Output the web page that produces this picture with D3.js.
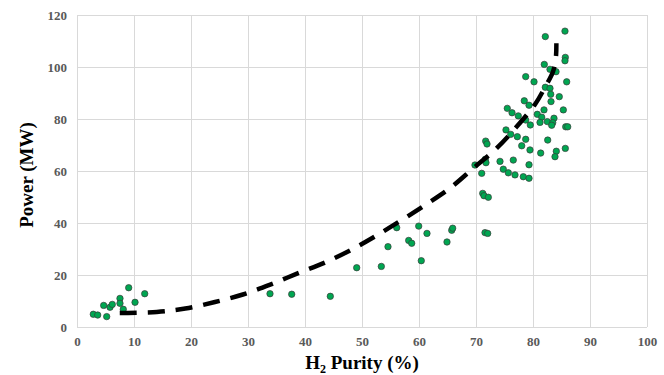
<!DOCTYPE html>
<html>
<head>
<meta charset="utf-8">
<script src="https://cdn.jsdelivr.net/npm/d3@7"></script>
<style>
  html, body { margin: 0; padding: 0; background: #fff; }
  svg { display: block; }
</style>
</head>
<body>
<svg id="chart" width="664" height="375"></svg>
<script>
// ---- Data ----
const purity = [
  2.86, 3.63, 5.21, 4.68, 5.79, 6.19, 7.54, 7.54, 8.12, 9.07, 10.18, 11.88,
  33.86, 37.67, 44.44,
  49.07, 53.39, 54.56, 56.09, 58.19, 58.72, 59.95, 60.40, 61.40, 64.91, 65.74, 65.91,
  71.18, 71.40, 72.16, 71.58, 72.05,
  85.61, 82.16, 85.67, 85.61, 81.98, 82.98, 84.04, 78.72, 80.18, 85.91,
  82.16, 82.98, 83.11, 84.61, 78.47, 83.16, 79.30, 75.49, 76.32, 81.93,
  85.32, 77.42, 80.75, 81.53, 78.72, 83.68, 81.23, 82.51, 83.46, 79.53,
  83.28, 85.74, 86.09, 75.26, 76.09, 77.25, 78.72, 82.58, 71.70, 71.93,
  78.02, 79.47, 85.67, 84.09, 81.35, 83.86, 71.63, 71.75, 69.82, 74.21,
  76.54, 79.30, 71.00, 74.79, 75.67, 76.84, 78.30, 79.30
];
const power = [
  4.9, 4.6, 4.0, 8.3, 7.6, 8.7, 11.0, 9.1, 6.8, 15.1, 9.5, 12.8,
  12.8, 12.6, 11.8,
  22.8, 23.3, 30.9, 38.2, 33.3, 32.2, 38.8, 25.5, 36.0, 32.7, 37.2, 38.0,
  51.4, 50.5, 49.9, 36.3, 36.0,
  113.8, 111.7, 103.7, 102.4, 101.0, 99.1, 98.2, 96.3, 94.3, 94.3,
  92.2, 91.8, 89.5, 88.6, 87.0, 86.7, 85.3, 84.1, 82.4, 83.5,
  83.5, 81.2, 81.8, 80.7, 79.6, 80.3, 78.7, 79.0, 78.6, 77.7,
  77.6, 77.0, 77.0, 75.8, 74.1, 73.2, 72.2, 71.9, 71.5, 70.4,
  69.7, 68.1, 68.7, 67.6, 66.9, 65.5, 64.5, 63.2, 62.3, 63.7,
  64.2, 62.4, 59.1, 60.7, 59.3, 58.5, 57.8, 57.2
];
// Trendline
const trendX = [7.5, 14.0, 19.0, 24.2, 29.1, 33.9, 38.7, 43.5, 48.2, 52.7, 57.1, 61.5, 65.6, 69.6, 73.5, 77.0, 80.4, 82.1, 83.5, 84.0, 84.1];
const trendY = [5.4, 5.8, 7.1, 9.6, 12.5, 16.3, 20.6, 24.8, 29.8, 35.4, 41.3, 47.5, 53.7, 61.2, 68.5, 76.7, 85.8, 92.2, 98.2, 103.3, 109.1];

const xTicks = [0, 10, 20, 30, 40, 50, 60, 70, 80, 90, 100];
const yTicks = [0, 20, 40, 60, 80, 100, 120];
const xTitleMain = "H";
const xTitleSub = "2";
const xTitleRest = " Purity (%)";
const yTitle = "Power (MW)";

// ---- Layout ----
const svg = d3.select("#chart");
const pLeft = 77, pRight = 647, pTop = 15, pBottom = 327;
const x = d3.scaleLinear().domain([0, 100]).range([pLeft, pRight]);
const y = d3.scaleLinear().domain([0, 120]).range([pBottom, pTop]);
const serif = "'Liberation Serif', 'Times New Roman', serif";

// gridlines
const grid = svg.append("g");
grid.selectAll("line.h").data(yTicks).join("line")
  .attr("x1", pLeft).attr("x2", pRight)
  .attr("y1", d => Math.round(y(d)) + 0.5).attr("y2", d => Math.round(y(d)) + 0.5)
  .attr("stroke", "#d9d9d9").attr("stroke-width", 1);
grid.selectAll("line.v").data(xTicks).join("line")
  .attr("y1", pTop).attr("y2", pBottom)
  .attr("x1", d => Math.round(x(d)) + 0.5).attr("x2", d => Math.round(x(d)) + 0.5)
  .attr("stroke", "#d9d9d9").attr("stroke-width", 1);

// axes (labels only)
const xAxis = d3.axisBottom(x).tickValues(xTicks).tickSize(0).tickPadding(10);
const yAxis = d3.axisLeft(y).tickValues(yTicks).tickSize(0).tickPadding(10);
const gx = svg.append("g").attr("transform", `translate(0,${pBottom})`).call(xAxis);
const gy = svg.append("g").attr("transform", `translate(${pLeft},0)`).call(yAxis);
[gx, gy].forEach(g => {
  g.select(".domain").remove();
  g.selectAll("text")
    .attr("font-family", serif).attr("font-weight", "bold")
    .attr("font-size", 13).attr("fill", "#595959");
});

// scatter points
svg.append("g").selectAll("circle").data(purity.map((p, i) => [p, power[i]])).join("circle")
  .attr("cx", d => x(d[0])).attr("cy", d => y(d[1]))
  .attr("r", 3.2)
  .attr("fill", "#00a651").attr("stroke", "#3a3a3a").attr("stroke-width", 0.7);

// trendline
const line = d3.line().x(d => x(d[0])).y(d => y(d[1])).curve(d3.curveCatmullRom);
svg.append("path")
  .datum(trendX.map((t, i) => [t, trendY[i]]))
  .attr("d", line)
  .attr("fill", "none").attr("stroke", "#000").attr("stroke-width", 4.5)
  .attr("stroke-dasharray", "17,11");

// axis titles
const xt = svg.append("text")
  .attr("x", (pLeft + pRight) / 2).attr("y", 369)
  .attr("text-anchor", "middle")
  .attr("font-family", serif).attr("font-weight", "bold").attr("font-size", 19).attr("fill", "#000");
xt.append("tspan").text(xTitleMain);
xt.append("tspan").attr("font-size", 12).attr("dy", 4).text(xTitleSub);
xt.append("tspan").attr("dy", -4).text(xTitleRest);

svg.append("text")
  .attr("transform", `translate(33,175) rotate(-90)`)
  .attr("text-anchor", "middle")
  .attr("font-family", serif).attr("font-weight", "bold").attr("font-size", 19).attr("fill", "#000")
  .text(yTitle);
</script>
</body>
</html>
